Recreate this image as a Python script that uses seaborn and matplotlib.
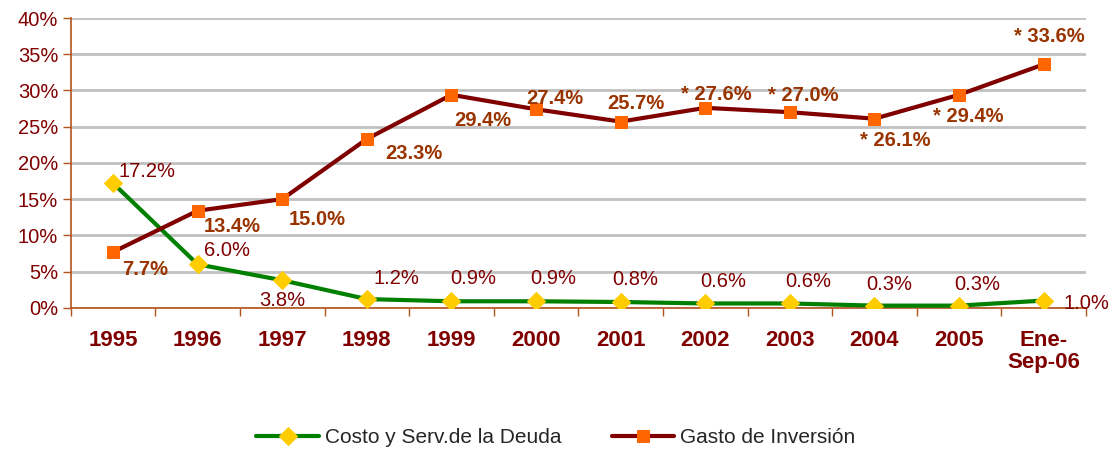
import matplotlib.pyplot as plt
import seaborn as sns
import pandas as pd
from matplotlib.ticker import PercentFormatter

years = ["1995", "1996", "1997", "1998", "1999", "2000", "2001", "2002",
         "2003", "2004", "2005", "Ene-\nSep-06"]
deuda = [17.2, 6.0, 3.8, 1.2, 0.9, 0.9, 0.8, 0.6, 0.6, 0.3, 0.3, 1.0]
inversion = [7.7, 13.4, 15.0, 23.3, 29.4, 27.4, 25.7, 27.6, 27.0, 26.1, 29.4, 33.6]
inv_labels = ["7.7%", "13.4%", "15.0%", "23.3%", "29.4%", "27.4%", "25.7%",
              "* 27.6%", "* 27.0%", "* 26.1%", "* 29.4%", "* 33.6%"]

# label offsets in pixels (dx, dy with dy up)
deuda_off = [(34, 12), (29, 14), (0, -20), (30, 21), (22, 23), (17, 23),
             (15, 23), (18, 22), (18, 22), (15, 21), (18, 21), (20, -3)]
inv_off = [(32, -17), (35, -16), (35, -20), (47, -15), (31, -26), (19, 11),
           (15, 18), (11, 13), (13, 17), (21, -22), (9, -22), (6, 28)]

DARK_RED = "#800000"
BROWN = "#993300"
AXIS = "#B5531C"

sns.set_theme(style="white")
plt.rcParams["font.family"] = ["Liberation Sans", "DejaVu Sans"]

df = pd.DataFrame({"x": range(len(years)), "deuda": [v / 100 for v in deuda],
                   "inversion": [v / 100 for v in inversion]})

fig = plt.figure(figsize=(11.12, 4.5), dpi=100)
ax = fig.add_axes([0.0636, 0.316, 0.913, 0.644])

sns.lineplot(data=df, x="x", y="deuda", ax=ax, color="#008000", linewidth=3,
             marker="D", markersize=9, markerfacecolor="#FFCC00",
             markeredgecolor="#FFCC00", label="Costo y Serv.de la Deuda", zorder=3)
sns.lineplot(data=df, x="x", y="inversion", ax=ax, color=DARK_RED, linewidth=3,
             marker="s", markersize=8, markerfacecolor="#FF6600",
             markeredgecolor="#FF6600", label="Gasto de Inversión", zorder=3)

for i, v in enumerate(deuda):
    last = i == len(deuda) - 1
    ax.annotate(f"{v:.1f}%", (i, v / 100), xytext=deuda_off[i],
                textcoords="offset pixels", ha="left" if last else "center",
                va="center", fontsize=14.5, color=DARK_RED, annotation_clip=False)
for i, v in enumerate(inversion):
    ax.annotate(inv_labels[i], (i, v / 100), xytext=inv_off[i],
                textcoords="offset pixels", ha="center", va="center",
                fontsize=14.5, color=BROWN, fontweight="bold")

ax.set_xlim(-0.5, len(years) - 0.5)
ax.set_ylim(0, 0.40)
ax.set_yticks([i * 0.05 for i in range(9)])
ax.yaxis.set_major_formatter(PercentFormatter(1.0, decimals=0))
ax.set_xticks(range(len(years)))
ax.set_xticklabels(years, fontweight="bold", color=DARK_RED, fontsize=16,
                   linespacing=1.05, va="top")
ax.set_xticks([i - 0.5 for i in range(len(years) + 1)], minor=True)
ax.tick_params(axis="x", which="major", length=0, pad=16)
ax.tick_params(axis="x", which="minor", length=6, width=1, color=AXIS,
               direction="out", bottom=True)
ax.tick_params(axis="y", length=6, width=1, color=AXIS, labelcolor=DARK_RED,
               labelsize=14.5, left=True, direction="out", pad=3)

ax.grid(axis="y", color="#C0C0C0", linewidth=2)
ax.set_axisbelow(True)
ax.set_xlabel("")
ax.set_ylabel("")
for side in ["top", "right"]:
    ax.spines[side].set_visible(False)
for side in ["left", "bottom"]:
    ax.spines[side].set_color(AXIS)
    ax.spines[side].set_linewidth(1.2)

ax.legend_.remove()
handles, labels = ax.get_legend_handles_labels()
fig.legend(handles, labels, loc="center", bbox_to_anchor=(0.5, 0.027), ncol=2,
           frameon=False, fontsize=15, handlelength=3.0, columnspacing=2.4,
           handletextpad=0.3)

fig.savefig("out.png", dpi=100)
